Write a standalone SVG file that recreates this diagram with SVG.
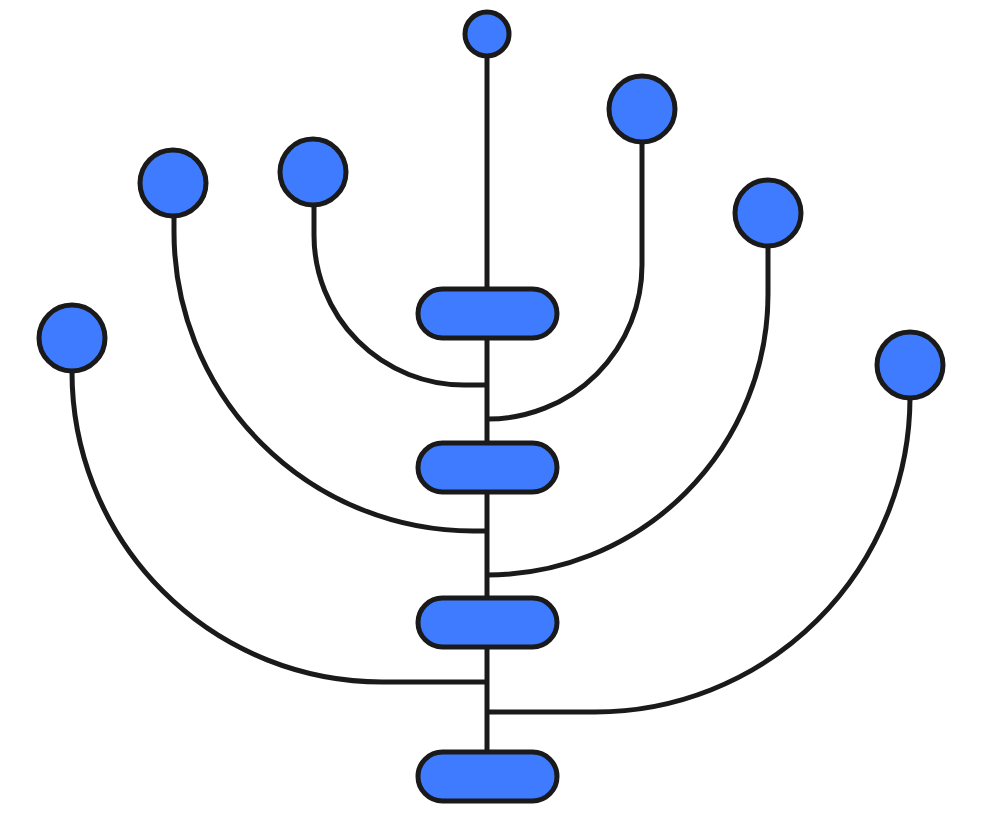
<svg xmlns="http://www.w3.org/2000/svg" width="1000" height="818" viewBox="0 0 1000 818">
<style>
.n{fill:#3f7bff;stroke:#1a1a1a;stroke-width:5}
.c{fill:none;stroke:#1a1a1a;stroke-width:5}
</style>
<rect width="1000" height="818" fill="#fff"/>
<g id="connectors">
<path class="c" d="M487 56 V752"/>
<path class="c" d="M314 205 V235 A150 150 0 0 0 464 385 H487"/>
<path class="c" d="M642 141 V265 A154 154 0 0 1 488 419 H487"/>
<path class="c" d="M174 216 V232 A299 299 0 0 0 473 531 H487"/>
<path class="c" d="M768 246 V294 A281 281 0 0 1 487 575"/>
<path class="c" d="M72 371 A310 310 0 0 0 382 682 H487"/>
<path class="c" d="M910 398 A315 315 0 0 1 595 712 H487"/>
</g>
<g id="top"><circle class="n" cx="487" cy="34" r="22"/></g>
<g id="c1"><circle class="n" cx="642" cy="109" r="33"/></g>
<g id="c2"><circle class="n" cx="313" cy="172" r="33"/></g>
<g id="c3"><circle class="n" cx="173" cy="183" r="33"/></g>
<g id="c4"><circle class="n" cx="768" cy="213" r="33"/></g>
<g id="c5"><circle class="n" cx="72" cy="338" r="33"/></g>
<g id="c6"><circle class="n" cx="910" cy="365" r="33"/></g>
<g id="p1"><rect class="n" x="418" y="289" width="139" height="49" rx="24.5"/></g>
<g id="p2"><rect class="n" x="418" y="443" width="139" height="49" rx="24.5"/></g>
<g id="p3"><rect class="n" x="418" y="598" width="139" height="49" rx="24.5"/></g>
<g id="p4"><rect class="n" x="418" y="752" width="139" height="49" rx="24.5"/></g>
</svg>
